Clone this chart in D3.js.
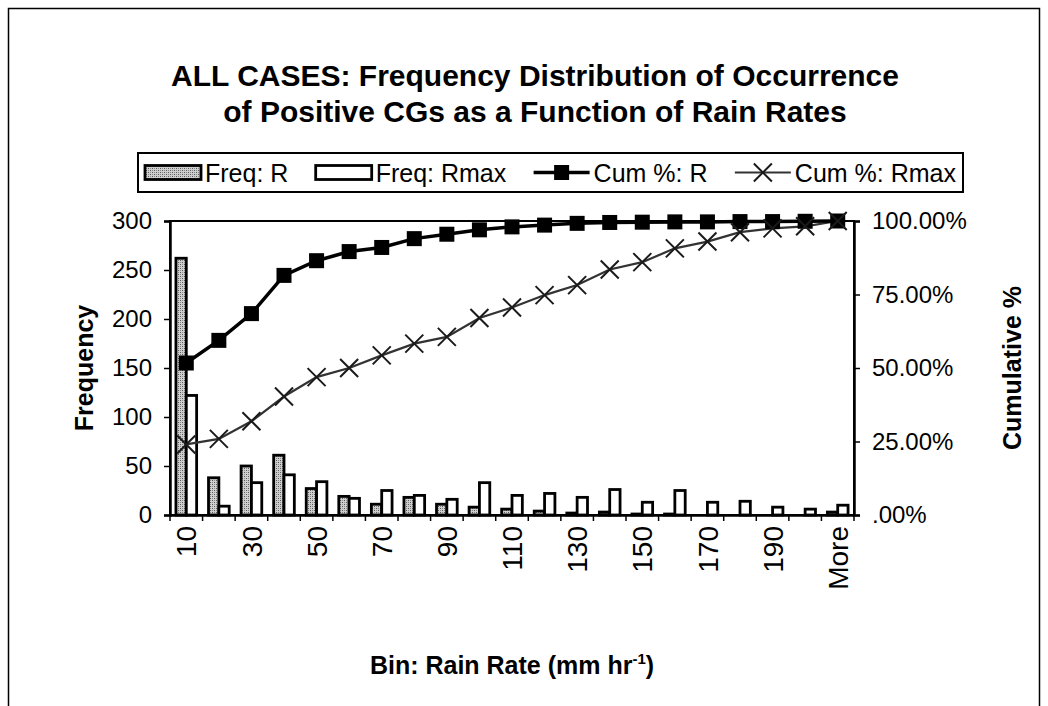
<!DOCTYPE html>
<html>
<head>
<meta charset="utf-8">
<script src="https://cdn.jsdelivr.net/npm/d3@7"></script>
<style>
  html, body { margin: 0; padding: 0; background: #fff; }
  svg { display: block; font-family: "Liberation Sans", Arial, Helvetica, sans-serif; }
</style>
</head>
<body>
<svg id="chart" width="1048" height="706"></svg>
<script>
// ---------------- data ----------------
const categories = ["10","20","30","40","50","60","70","80","90","100","110","120","130","140","150","160","170","180","190","200","More"];
const freqR     = [262, 38, 50, 61, 27, 19, 11, 18, 11, 8, 6, 4, 2, 3, 1, 1, 0, 0, 0, 0, 3];
const freqRmax  = [122, 9, 33, 41, 34, 17, 25, 20, 16, 33, 20, 22, 18, 26, 13, 25, 13, 14, 8, 6, 10];
const cumR      = [51.7, 59.4, 68.5, 81.5, 86.5, 89.6, 91.0, 94.0, 95.5, 97.0, 98.0, 98.6, 99.2, 99.5, 99.6, 99.7, 99.7, 99.8, 99.8, 99.9, 100];
const cumRmax   = [24.0, 25.9, 31.9, 40.3, 46.9, 50.0, 54.3, 58.3, 60.6, 67.0, 70.6, 74.8, 78.2, 83.5, 86.0, 90.7, 93.0, 96.2, 97.5, 98.2, 100];
const freqTicks = [0, 50, 100, 150, 200, 250, 300];
const pctTicks  = [0, 25, 50, 75, 100];
const pctLabels = [".00%", "25.00%", "50.00%", "75.00%", "100.00%"];
const xLabelCats = ["10","30","50","70","90","110","130","150","170","190","More"];
const seriesNames = ["Freq: R", "Freq: Rmax", "Cum %: R", "Cum %: Rmax"];
const titleLines = ["ALL CASES: Frequency Distribution of Occurrence", "of Positive CGs as a Function of Rain Rates"];

// ---------------- layout ----------------
const svg = d3.select("#chart");
const plot = {left: 170, right: 854, top: 221, bottom: 515};

const defs = svg.append("defs");
const pat = defs.append("pattern").attr("id", "stip").attr("patternUnits", "userSpaceOnUse")
  .attr("width", 4).attr("height", 4);
pat.append("rect").attr("width", 4).attr("height", 4).attr("fill", "#cfcfcf");
pat.append("rect").attr("x", 0).attr("y", 0).attr("width", 1).attr("height", 1).attr("fill", "#5a5a5a");
pat.append("rect").attr("x", 2).attr("y", 2).attr("width", 1).attr("height", 1).attr("fill", "#5a5a5a");
pat.append("rect").attr("x", 2).attr("y", 0).attr("width", 1).attr("height", 1).attr("fill", "#8a8a8a");
pat.append("rect").attr("x", 0).attr("y", 2).attr("width", 1).attr("height", 1).attr("fill", "#8a8a8a");

// outer border
svg.append("rect").attr("x", 8.5).attr("y", 8.5).attr("width", 1031).attr("height", 720)
  .attr("fill", "none").attr("stroke", "#000").attr("stroke-width", 1.5);

// title
svg.append("g").selectAll("text").data(titleLines).join("text")
  .attr("x", 535).attr("y", (d, i) => 86 + i * 36)
  .attr("text-anchor", "middle").attr("font-weight", "bold").attr("font-size", 30)
  .text(d => d);

// scales
const x = d3.scaleBand().domain(categories).range([plot.left, plot.right]).padding(0);
const groupFrac = 0.635;
const xs = d3.scaleBand().domain(["R", "Rmax"])
  .range([x.bandwidth() * (1 - groupFrac) / 2, x.bandwidth() * (1 + groupFrac) / 2]).padding(0);
const yL = d3.scaleLinear().domain([0, 300]).range([plot.bottom, plot.top]);
const yR = d3.scaleLinear().domain([0, 100]).range([plot.bottom, plot.top]);

// plot border
svg.append("rect").attr("x", plot.left).attr("y", plot.top)
  .attr("width", plot.right - plot.left).attr("height", plot.bottom - plot.top)
  .attr("fill", "none").attr("stroke", "#000").attr("stroke-width", 2);

// bars
const gBars = svg.append("g");
gBars.selectAll("rect.r").data(freqR).join("rect").attr("class", "r")
  .attr("x", (d, i) => x(categories[i]) + xs("R"))
  .attr("y", d => yL(d)).attr("width", xs.bandwidth())
  .attr("height", d => yL(0) - yL(d))
  .attr("fill", "url(#stip)").attr("stroke", "#000").attr("stroke-width", d => d > 0 ? 2.8 : 0);
gBars.selectAll("rect.rm").data(freqRmax).join("rect").attr("class", "rm")
  .attr("x", (d, i) => x(categories[i]) + xs("Rmax"))
  .attr("y", d => yL(d)).attr("width", xs.bandwidth())
  .attr("height", d => yL(0) - yL(d))
  .attr("fill", "#fff").attr("stroke", "#000").attr("stroke-width", 2.8);

// axes
const axL = d3.axisLeft(yL).tickValues(freqTicks).tickSize(6).tickPadding(12);
const gL = svg.append("g").attr("transform", `translate(${plot.left},0)`).call(axL);
const axR = d3.axisRight(yR).tickValues(pctTicks).tickSize(6).tickPadding(12)
  .tickFormat((d, i) => pctLabels[i]);
const gR = svg.append("g").attr("transform", `translate(${plot.right},0)`).call(axR);
const axB = d3.axisBottom(x).tickValues(xLabelCats).tickSize(0).tickPadding(0);
const gB = svg.append("g").attr("transform", `translate(0,${plot.bottom})`).call(axB);
[gL, gR, gB].forEach(g => {
  g.select(".domain").attr("stroke", "#000").attr("stroke-width", 2.5);
  g.selectAll(".tick line").attr("stroke", "#000").attr("stroke-width", 1.5);
  g.selectAll(".tick text").attr("fill", "#000").attr("font-size", 24)
    .attr("font-family", "'Liberation Sans', Arial, sans-serif");
});
gB.selectAll(".tick text")
  .attr("font-size", 28)
  .attr("transform", "rotate(-90)").attr("text-anchor", "end")
  .attr("x", -11).attr("y", 0).attr("dy", "0.36em");
// x tick marks at category boundaries
const bounds = d3.range(categories.length + 1).map(i => plot.left + i * x.step());
svg.append("g").selectAll("line").data(bounds).join("line")
  .attr("x1", d => d).attr("x2", d => d).attr("y1", plot.bottom).attr("y2", plot.bottom + 6)
  .attr("stroke", "#000").attr("stroke-width", 1.5);

// lines
const cx = (i) => x(categories[i]) + x.bandwidth() / 2;
const lineGen = d3.line().x((d, i) => cx(i)).y(d => yR(d));
svg.append("path").datum(cumRmax).attr("d", lineGen)
  .attr("fill", "none").attr("stroke", "#333").attr("stroke-width", 2.2);
svg.append("path").datum(cumR).attr("d", lineGen)
  .attr("fill", "none").attr("stroke", "#000").attr("stroke-width", 3.5);

const sq = 15;
svg.append("g").selectAll("rect").data(cumR).join("rect")
  .attr("x", (d, i) => cx(i) - sq / 2).attr("y", d => yR(d) - sq / 2)
  .attr("width", sq).attr("height", sq).attr("fill", "#000");

const xm = 9;
const xPath = `M${-xm},${-xm}L${xm},${xm}M${-xm},${xm}L${xm},${-xm}`;
svg.append("g").selectAll("path").data(cumRmax).join("path")
  .attr("transform", (d, i) => `translate(${cx(i)},${yR(d)})`)
  .attr("d", xPath).attr("stroke", "#1a1a1a").attr("stroke-width", 2).attr("fill", "none");

// axis titles
svg.append("text").attr("transform", `translate(93,${(plot.top + plot.bottom) / 2}) rotate(-90)`)
  .attr("text-anchor", "middle").attr("font-weight", "bold").attr("font-size", 25).text("Frequency");
svg.append("text").attr("transform", `translate(1021,${(plot.top + plot.bottom) / 2}) rotate(-90)`)
  .attr("text-anchor", "middle").attr("font-weight", "bold").attr("font-size", 25).text("Cumulative %");
const xt = svg.append("text").attr("x", 512).attr("y", 674).attr("text-anchor", "middle")
  .attr("font-weight", "bold").attr("font-size", 25);
xt.append("tspan").text("Bin: Rain Rate (mm hr");
xt.append("tspan").attr("dy", -10).attr("font-size", 15).text("-1");
xt.append("tspan").attr("dy", 10).text(")");

// legend
const leg = {x: 138, y: 153, w: 825, h: 39};
svg.append("rect").attr("x", leg.x).attr("y", leg.y).attr("width", leg.w).attr("height", leg.h)
  .attr("fill", "#fff").attr("stroke", "#000").attr("stroke-width", 2);
const ly = leg.y + leg.h / 2;
const symW = 56, symGap = 4, legStart = 145, legEnd = 956;
const gLegT = svg.append("g");
const texts = gLegT.selectAll("text").data(seriesNames).join("text")
  .attr("y", ly).attr("dy", "0.36em").attr("font-size", 25).text(d => d);
const widths = [];
texts.each(function () { widths.push(this.getComputedTextLength()); });
const used = d3.sum(widths) + seriesNames.length * (symW + symGap);
const gap = (legEnd - legStart - used) / (seriesNames.length - 1);
const itemX = [];
let cur = legStart;
widths.forEach(w => { itemX.push(cur); cur += symW + symGap + w + gap; });
texts.attr("x", (d, i) => itemX[i] + symW + symGap);

const g0 = svg.append("g");
g0.append("rect").attr("x", itemX[0]).attr("y", ly - 7).attr("width", symW).attr("height", 14)
  .attr("fill", "url(#stip)").attr("stroke", "#000").attr("stroke-width", 2.8);
g0.append("rect").attr("x", itemX[1]).attr("y", ly - 7).attr("width", symW).attr("height", 14)
  .attr("fill", "#fff").attr("stroke", "#000").attr("stroke-width", 2.8);
g0.append("line").attr("x1", itemX[2]).attr("x2", itemX[2] + symW).attr("y1", ly).attr("y2", ly)
  .attr("stroke", "#000").attr("stroke-width", 3.5);
g0.append("rect").attr("x", itemX[2] + symW / 2 - sq / 2).attr("y", ly - sq / 2).attr("width", sq).attr("height", sq).attr("fill", "#000");
g0.append("line").attr("x1", itemX[3]).attr("x2", itemX[3] + symW).attr("y1", ly).attr("y2", ly)
  .attr("stroke", "#333").attr("stroke-width", 2.2);
g0.append("path").attr("transform", `translate(${itemX[3] + symW / 2},${ly})`)
  .attr("d", xPath).attr("stroke", "#1a1a1a").attr("stroke-width", 2).attr("fill", "none");
</script>
</body>
</html>
